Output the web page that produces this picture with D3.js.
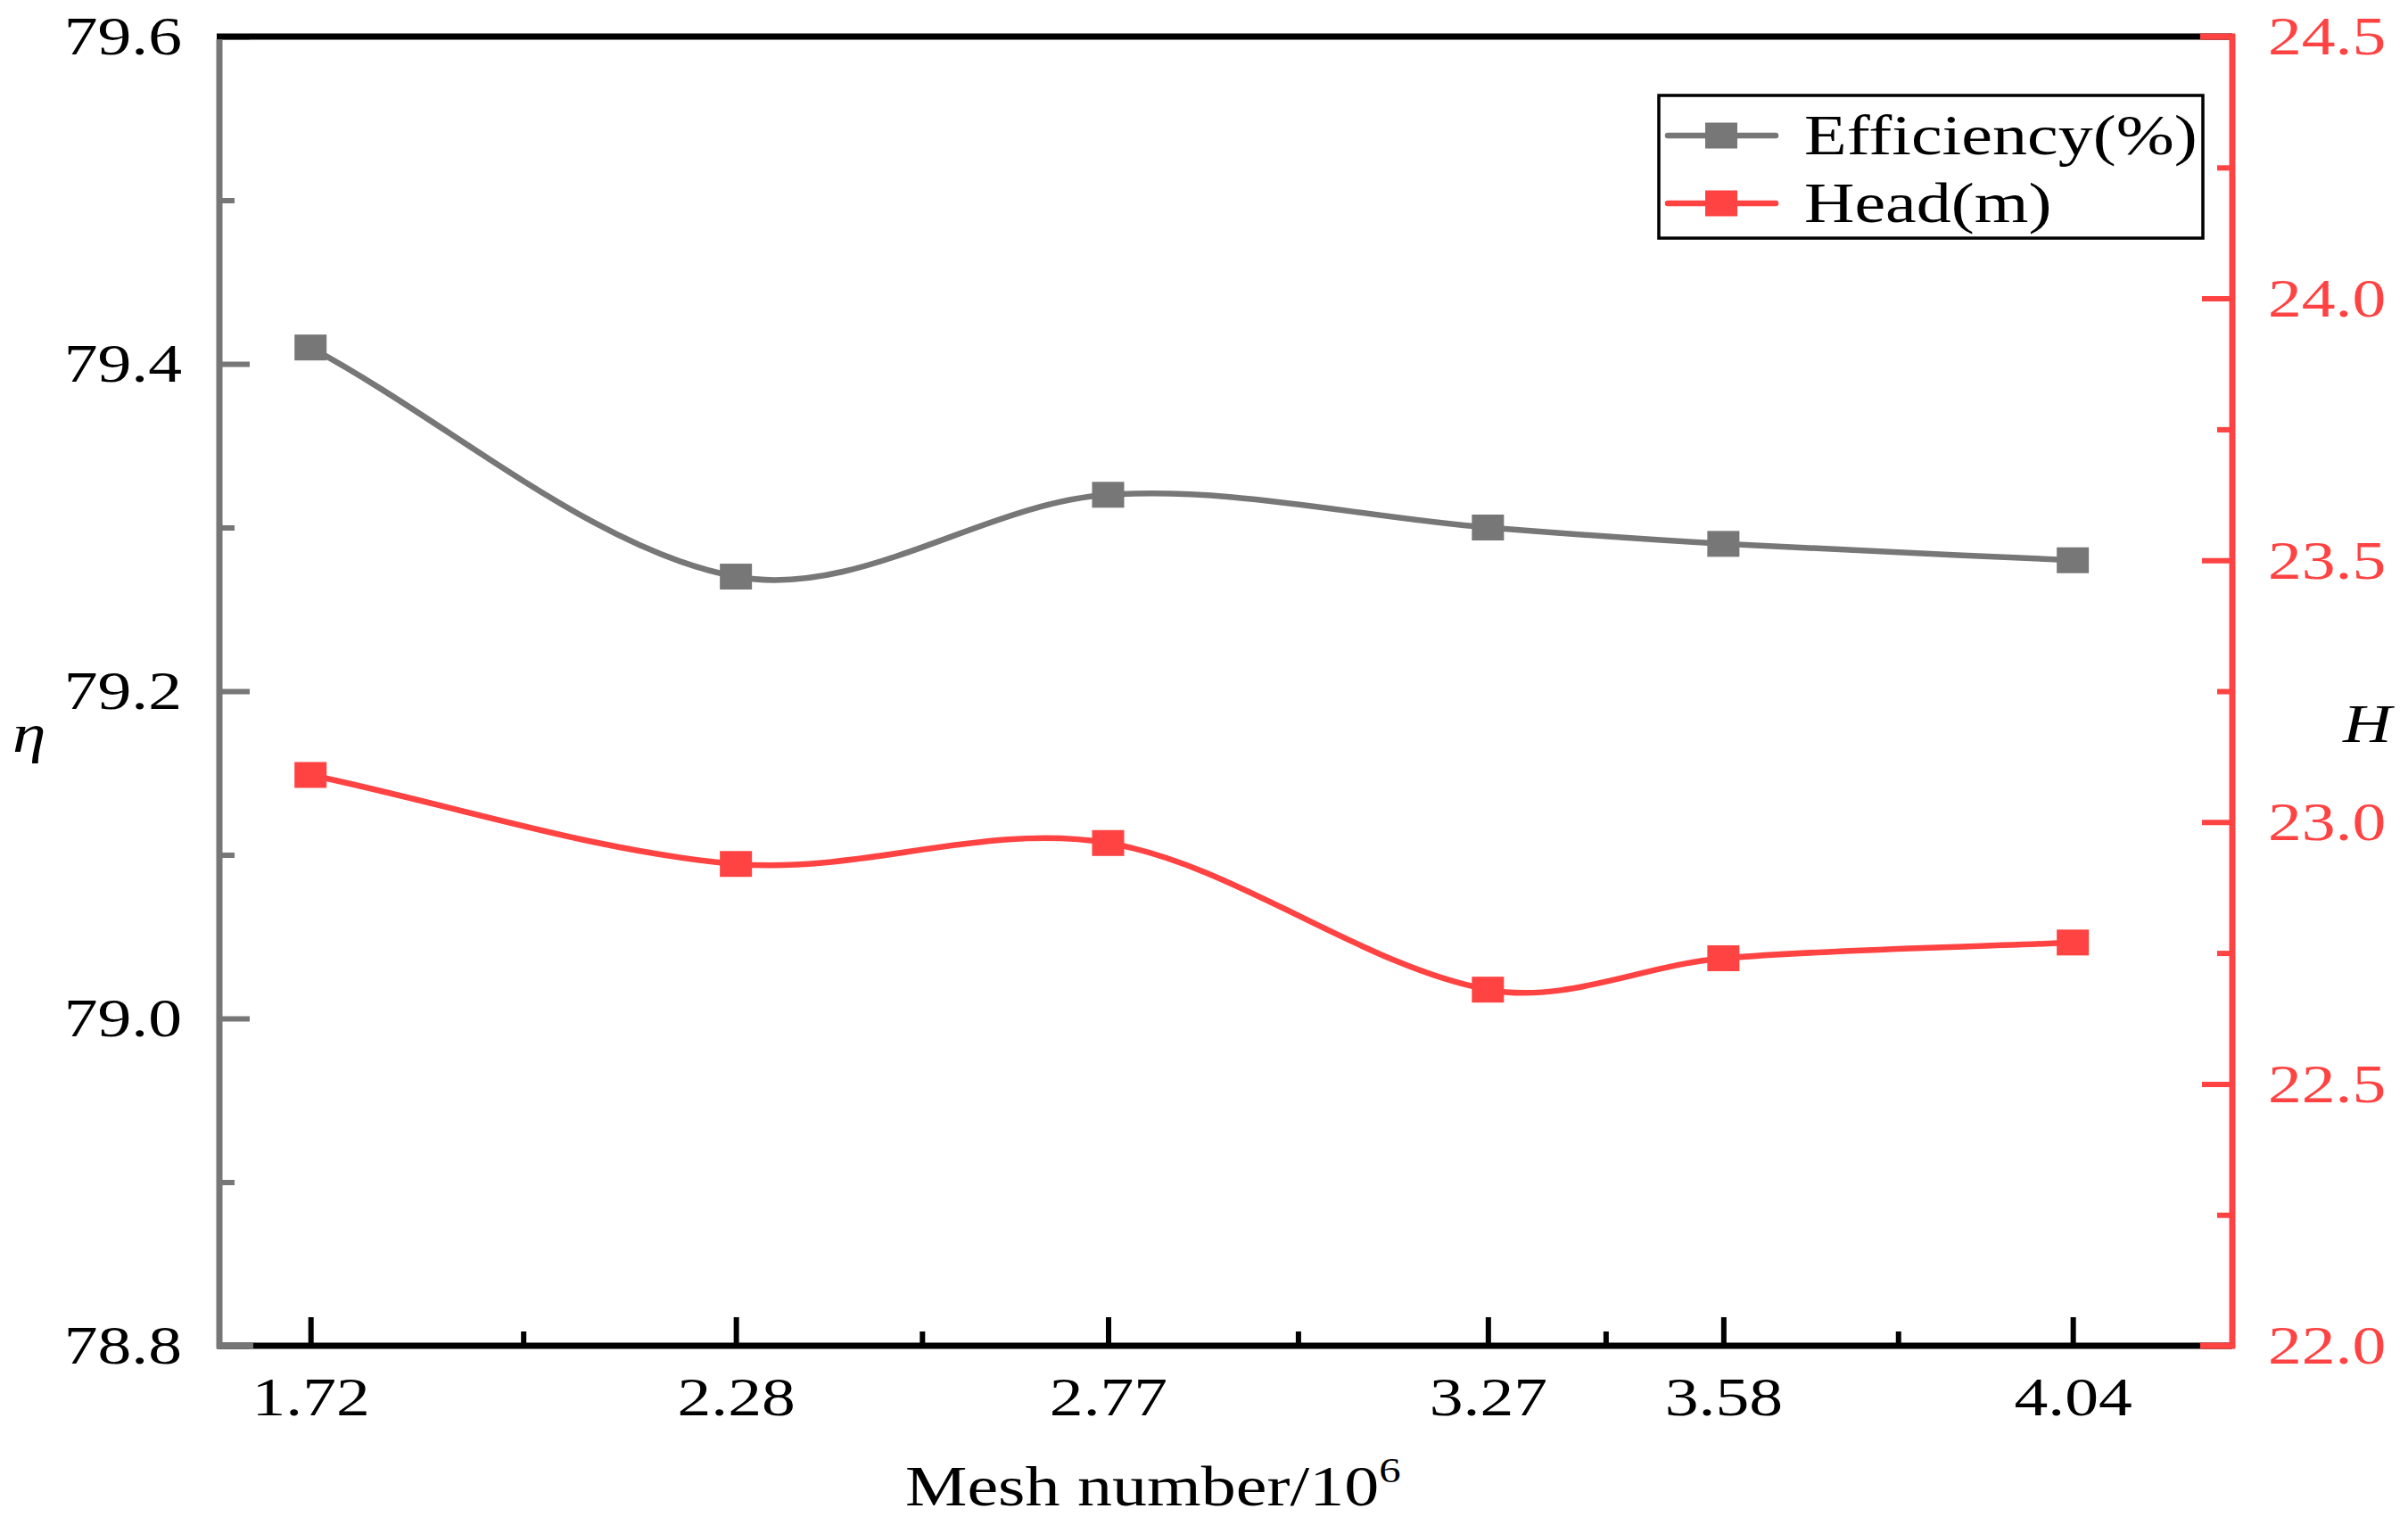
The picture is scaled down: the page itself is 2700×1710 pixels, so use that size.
<!DOCTYPE html>
<html>
<head>
<meta charset="utf-8">
<script src="https://cdn.jsdelivr.net/npm/d3@7"></script>
<style>
  html, body { margin: 0; padding: 0; background: #fff; }
  svg { display: block; }
  text { font-family: "Liberation Serif", "Times New Roman", serif; }
</style>
</head>
<body>
<svg width="2700" height="1710"></svg>
<script>
var meshNumbers = [1.72, 2.28, 2.77, 3.27, 3.58, 4.04];
var efficiency = [79.41, 79.27, 79.32, 79.30, 79.29, 79.28];
var head = [23.09, 22.92, 22.96, 22.68, 22.74, 22.77];
var etaTicks = [78.8, 79.0, 79.2, 79.4, 79.6];
var etaMinor = [78.9, 79.1, 79.3, 79.5];
var headTicks = [22.0, 22.5, 23.0, 23.5, 24.0, 24.5];
var headMinor = [22.25, 22.75, 23.25, 23.75, 24.25];
var seriesNames = ["Efficiency(%)", "Head(m)"];

var gray = "#777777", red = "#ff4242";
var SX = 1.22, FS = 62;   // the original figure is stretched sideways

var svg = d3.select("svg"),
    plotLeft = 246, plotRight = 2503, plotTop = 41, plotBottom = 1509;

var x = d3.scaleLinear().domain([1.6, 4.25]).range([plotLeft, plotRight]);
var yL = d3.scaleLinear().domain([78.8, 79.6]).range([plotBottom, plotTop]);
var yR = d3.scaleLinear().domain([22, 24.5]).range([plotBottom, plotTop]);

// midpoints between the mesh sizes carry the minor ticks
var meshMinor = d3.pairs(meshNumbers).map(function(p) { return (p[0] + p[1]) / 2; });

// cubic Hermite in x with Catmull-Rom tangents, chord slopes at both ends
function SplineX(context) { this._context = context; }
SplineX.prototype = {
  areaStart: function() {}, areaEnd: function() {},
  lineStart: function() { this._x = []; this._y = []; },
  point: function(px, py) { this._x.push(+px); this._y.push(+py); },
  lineEnd: function() {
    var xs = this._x, ys = this._y, n = xs.length, c = this._context, m = [], i;
    if (!n) return;
    c.moveTo(xs[0], ys[0]);
    if (n < 3) { if (n === 2) c.lineTo(xs[1], ys[1]); return; }
    m[0] = (ys[1] - ys[0]) / (xs[1] - xs[0]);
    m[n - 1] = (ys[n - 1] - ys[n - 2]) / (xs[n - 1] - xs[n - 2]);
    for (i = 1; i < n - 1; i++) m[i] = (ys[i + 1] - ys[i - 1]) / (xs[i + 1] - xs[i - 1]);
    for (i = 0; i < n - 1; i++) {
      var h = xs[i + 1] - xs[i];
      c.bezierCurveTo(xs[i] + h / 3, ys[i] + m[i] * h / 3,
                      xs[i + 1] - h / 3, ys[i + 1] - m[i + 1] * h / 3,
                      xs[i + 1], ys[i + 1]);
    }
  }
};
function curveSplineX(context) { return new SplineX(context); }

function styleAxis(g, color, textColor) {
  g.select(".domain").remove();
  g.selectAll(".tick line").attr("stroke", color).attr("stroke-width", 6);
  g.selectAll(".tick text")
      .attr("fill", textColor)
      .style("font-size", FS + "px");
}

// bottom axis
var gx = svg.append("g")
    .attr("transform", "translate(0," + plotBottom + ")")
    .call(d3.axisBottom(x).tickValues(meshNumbers).tickSizeInner(-32).tickSizeOuter(0)
      .tickPadding(34).tickFormat(d3.format(".2f")));
styleAxis(gx, "#000", "#000");
gx.selectAll(".tick text").attr("transform", "scale(" + SX + ",1)");
var gxm = svg.append("g")
    .attr("transform", "translate(0," + plotBottom + ")")
    .call(d3.axisBottom(x).tickValues(meshMinor).tickSizeInner(-16).tickSizeOuter(0).tickFormat(""));
styleAxis(gxm, "#000", "#000");

// left axis
var gl = svg.append("g")
    .attr("transform", "translate(" + plotLeft + ",0)")
    .call(d3.axisLeft(yL).tickValues(etaTicks).tickSizeInner(-34).tickSizeOuter(0)
      .tickPadding(42).tickFormat(d3.format(".1f")));
styleAxis(gl, gray, "#000");
gl.selectAll(".tick text").attr("x", -42 / SX).attr("transform", "scale(" + SX + ",1)");
var glm = svg.append("g")
    .attr("transform", "translate(" + plotLeft + ",0)")
    .call(d3.axisLeft(yL).tickValues(etaMinor).tickSizeInner(-17).tickSizeOuter(0).tickFormat(""));
styleAxis(glm, gray, "#000");

// right axis
var gr = svg.append("g")
    .attr("transform", "translate(" + plotRight + ",0)")
    .call(d3.axisRight(yR).tickValues(headTicks).tickSizeInner(-34).tickSizeOuter(0)
      .tickPadding(40).tickFormat(d3.format(".1f")));
styleAxis(gr, red, red);
gr.selectAll(".tick text").attr("x", 40 / SX).attr("transform", "scale(" + SX + ",1)");
var grm = svg.append("g")
    .attr("transform", "translate(" + plotRight + ",0)")
    .call(d3.axisRight(yR).tickValues(headMinor).tickSizeInner(-17).tickSizeOuter(0).tickFormat(""));
styleAxis(grm, red, red);

// frame lines
var frame = svg.append("g").attr("stroke-width", 7).attr("fill", "none");
frame.append("line").attr("x1", plotLeft - 3).attr("x2", plotRight).attr("y1", plotBottom).attr("y2", plotBottom).attr("stroke", "#000");
frame.append("line").attr("x1", plotLeft - 3).attr("x2", plotRight).attr("y1", plotTop).attr("y2", plotTop).attr("stroke", "#000");
frame.append("line").attr("x1", plotLeft).attr("x2", plotLeft).attr("y1", plotTop + 3).attr("y2", plotBottom + 3).attr("stroke", gray);
frame.append("line").attr("x1", plotLeft - 3).attr("x2", plotLeft + 38).attr("y1", plotBottom).attr("y2", plotBottom).attr("stroke", gray);
frame.append("line").attr("x1", plotRight - 36).attr("x2", plotRight + 3).attr("y1", plotBottom).attr("y2", plotBottom).attr("stroke", red);
frame.append("line").attr("x1", plotRight - 36).attr("x2", plotRight + 3).attr("y1", plotTop).attr("y2", plotTop).attr("stroke", red);
frame.append("line").attr("x1", plotRight).attr("x2", plotRight).attr("y1", plotTop - 3).attr("y2", plotBottom + 3).attr("stroke", red);

// data
var effData = meshNumbers.map(function(m, i) { return {x: m, y: efficiency[i]}; });
var headData = meshNumbers.map(function(m, i) { return {x: m, y: head[i]}; });

function drawSeries(data, yScale, color) {
  var line = d3.line()
      .curve(curveSplineX)
      .x(function(d) { return x(d.x); })
      .y(function(d) { return yScale(d.y); });
  svg.append("path")
      .datum(data)
      .attr("fill", "none")
      .attr("stroke", color)
      .attr("stroke-width", 6.5)
      .attr("d", line);
  svg.append("g").selectAll("rect")
      .data(data)
      .enter().append("rect")
      .attr("x", function(d) { return x(d.x) - 18; })
      .attr("y", function(d) { return yScale(d.y) - 14.5; })
      .attr("width", 36)
      .attr("height", 29)
      .attr("fill", color);
}
drawSeries(effData, yL, gray);
drawSeries(headData, yR, red);

// legend
var legend = svg.append("g");
legend.append("rect")
    .attr("x", 1860).attr("y", 107).attr("width", 610).attr("height", 160)
    .attr("fill", "#fff").attr("stroke", "#000").attr("stroke-width", 3.5);
[gray, red].forEach(function(color, i) {
  var cy = 152 + i * 76;
  legend.append("line")
      .attr("x1", 1870).attr("x2", 1991).attr("y1", cy).attr("y2", cy)
      .attr("stroke", color).attr("stroke-width", 6.5).attr("stroke-linecap", "round");
  legend.append("rect")
      .attr("x", 1912).attr("y", cy - 14.5).attr("width", 36).attr("height", 29)
      .attr("fill", color);
  legend.append("text")
      .attr("transform", "translate(2023," + (cy + 21) + ") scale(" + SX + ",1)")
      .style("font-size", "64px")
      .text(seriesNames[i]);
});

// axis titles
var title = svg.append("text")
    .attr("transform", "translate(1015,1688) scale(" + SX + ",1)")
    .style("font-size", "64px");
title.append("tspan").text("Mesh number/10");
title.append("tspan").attr("dy", -26).style("font-size", "40px").text("6");

svg.append("text")
    .attr("transform", "translate(14,843) scale(" + SX + ",1)")
    .style("font-size", FS + "px").style("font-style", "italic")
    .text("η");

svg.append("text")
    .attr("transform", "translate(2627,832) scale(" + SX + ",1)")
    .style("font-size", FS + "px").style("font-style", "italic")
    .text("H");
</script>
</body>
</html>
